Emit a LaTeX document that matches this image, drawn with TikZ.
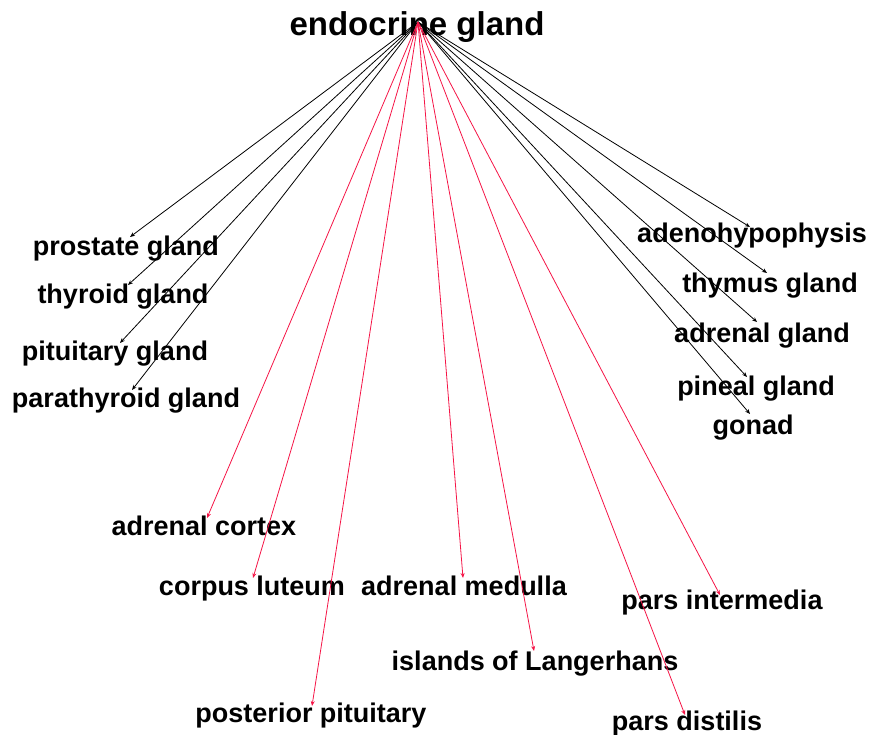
\documentclass[tikz,border=0pt]{standalone}
\usepackage{fontspec}
\setmainfont{Liberation Sans}
\usetikzlibrary{arrows.meta}
\definecolor{edgered}{RGB}{245,20,70}
\tikzset{
  lbl/.style={anchor=base, inner sep=0pt, font=\bfseries\fontsize{27}{30}\selectfont},
  blk/.style={draw=black, line width=0.8pt, -{Stealth[length=5pt,width=4pt]}},
  rd/.style={draw=edgered, line width=0.8pt, -{Stealth[length=5pt,width=4pt]}}
}
\begin{document}
\begin{tikzpicture}[x=1pt,y=-1pt]
\useasboundingbox (0,0) rectangle (869,735);
% labels
\node[lbl, font=\bfseries\fontsize{33}{36}\selectfont] (root) at (417,36) {endocrine gland};
\node[lbl] (prostate) at (126,255) {prostate gland};
\node[lbl] (thyroid) at (123,303) {thyroid gland};
\node[lbl] (pituitary) at (115,360) {pituitary gland};
\node[lbl] (parathyroid) at (126,407) {parathyroid gland};
\node[lbl] (adeno) at (752,242) {adenohypophysis};
\node[lbl] (thymus) at (770,292) {thymus gland};
\node[lbl] (adrenalg) at (762,342) {adrenal gland};
\node[lbl] (pineal) at (756,395) {pineal gland};
\node[lbl] (gonad) at (753,434) {gonad};
\node[lbl] (cortex) at (204,535) {adrenal cortex};
\node[lbl] (corpus) at (252,595) {corpus luteum};
\node[lbl] (medulla) at (464,595) {adrenal medulla};
\node[lbl] (intermedia) at (722,609) {pars intermedia};
\node[lbl] (islands) at (535,670) {islands of Langerhans};
\node[lbl] (posterior) at (311,722) {posterior pituitary};
\node[lbl] (distilis) at (687,730) {pars distilis};
% hub and endpoints
\coordinate (hub) at (418,22);
\coordinate (e-prostate) at (130,237);
\coordinate (e-thyroid) at (128,285);
\coordinate (e-pituitary) at (120,343);
\coordinate (e-parathyroid) at (132,390);
\coordinate (e-adeno) at (750,227);
\coordinate (e-thymus) at (767,273);
\coordinate (e-adrenalg) at (757,322);
\coordinate (e-pineal) at (747,377);
\coordinate (e-gonad) at (750,414);
\coordinate (e-cortex) at (207,518);
\coordinate (e-corpus) at (253,578);
\coordinate (e-posterior) at (312,706);
\coordinate (e-medulla) at (463,578);
\coordinate (e-islands) at (534,651);
\coordinate (e-intermedia) at (720,595);
\coordinate (e-distilis) at (685,715);
% edges
\foreach \t in {prostate,thyroid,pituitary,parathyroid,adeno,thymus,adrenalg,pineal,gonad}
  \draw[blk] (hub) -- (e-\t);
\foreach \t in {cortex,corpus,posterior,medulla,islands,intermedia,distilis}
  \draw[rd] (hub) -- (e-\t);
\end{tikzpicture}
\end{document}
